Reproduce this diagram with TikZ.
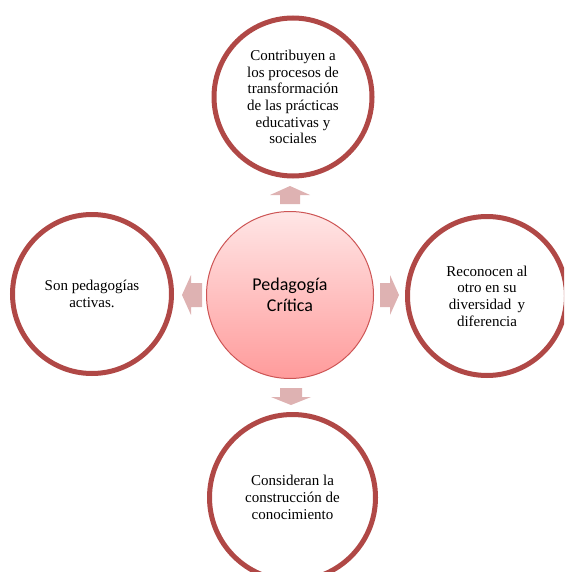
\documentclass[tikz,border=0pt]{standalone}
\usepackage{fontspec}
\setmainfont{Liberation Serif}
\newfontfamily\calibrifont{Carlito}
\definecolor{ringred}{RGB}{176,72,70}
\definecolor{arrowpink}{RGB}{222,178,178}
\definecolor{centreborder}{RGB}{205,85,85}
\definecolor{centretop}{RGB}{255,230,230}
\definecolor{centrebottom}{RGB}{255,155,155}
\begin{document}
\begin{tikzpicture}[x=1pt,y=-1pt,
  ring/.style={circle, draw=ringred, line width=5pt, fill=white, align=center,
    font=\fontsize{15}{16.7}\selectfont, inner sep=0pt},
  hub/.style={circle, draw=centreborder, line width=1pt, top color=centretop,
    bottom color=centrebottom, align=center, font=\calibrifont\fontsize{18}{21.5}\selectfont,
    minimum size=167pt, inner sep=0pt},
  blockarrow/.style={fill=arrowpink, draw=none}]
\useasboundingbox (0,0) rectangle (564,572);
\clip (0,0) rectangle (564,572);
\node[hub] (c) at (290,295) {Pedagogía\\Crítica};
\node[ring, minimum size=158pt] (t) at (293,97) {Contribuyen a\\los procesos de\\transformación\\de las prácticas\\educativas y\\sociales};
\node[ring, minimum size=159pt] (l) at (92,294) {Son pedagogías\\activas.};
\node[ring, minimum size=159pt] (r) at (487,296) {Reconocen al\\otro en su\\diversidad\, y\\diferencia};
\node[ring, minimum size=166pt] (b) at (292.5,497.5) {Consideran la\\construcción de\\conocimiento};
% up arrow
\fill[blockarrow] (290,186) -- (310,195) -- (300,195) -- (300,204) -- (280,204) -- (280,195) -- (270,195) -- cycle;
% down arrow
\fill[blockarrow] (291,405) -- (311,397) -- (302,397) -- (302,388) -- (280,388) -- (280,397) -- (271,397) -- cycle;
% left arrow
\fill[blockarrow] (182,295) -- (191,275) -- (191,283) -- (202,283) -- (202,307) -- (191,307) -- (191,315) -- cycle;
% right arrow
\fill[blockarrow] (399,295) -- (390,275) -- (390,283) -- (380,283) -- (380,307) -- (390,307) -- (390,315) -- cycle;
\end{tikzpicture}
\end{document}
